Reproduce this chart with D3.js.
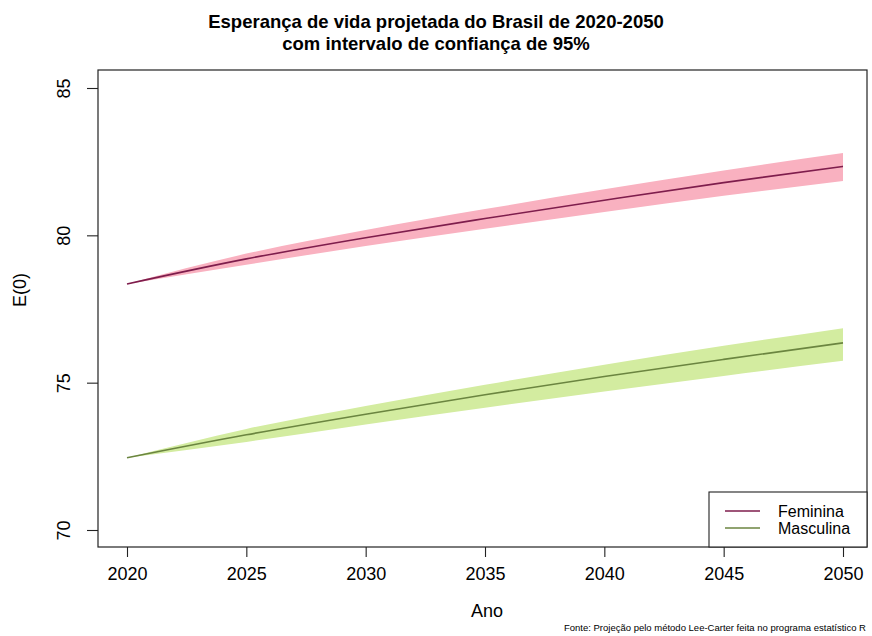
<!DOCTYPE html>
<html>
<head>
<meta charset="utf-8">
<script src="https://cdn.jsdelivr.net/npm/d3@7"></script>
<style>
  body { margin: 0; background: #fff; }
  text { font-family: "Liberation Sans", Arial, sans-serif; fill: #000; }
</style>
</head>
<body>
<svg id="chart"></svg>
<script>
const anos = [2020, 2025, 2030, 2035, 2040, 2045, 2050];

const femMedia = [78.35, 79.20, 79.92, 80.57, 81.19, 81.79, 82.34];
const femSup   = [78.35, 79.38, 80.18, 80.89, 81.56, 82.20, 82.79];
const femInf   = [78.35, 79.00, 79.64, 80.22, 80.79, 81.34, 81.84];

const mascMedia = [72.45, 73.23, 73.93, 74.59, 75.21, 75.79, 76.35];
const mascSup   = [72.45, 73.43, 74.21, 74.93, 75.61, 76.25, 76.85];
const mascInf   = [72.45, 72.99, 73.58, 74.15, 74.70, 75.23, 75.74];

const xTicks = [2020, 2025, 2030, 2035, 2040, 2045, 2050];
const yTicks = [70, 75, 80, 85];

const legendaNomes = ["Feminina", "Masculina"];

function drawChart() {
    const svgWidth = 872;
    const svgHeight = 636;
    const box = { left: 98, right: 867, top: 70, bottom: 547 };

    const svg = d3.select("#chart")
        .attr("width", svgWidth)
        .attr("height", svgHeight);

    const x = d3.scaleLinear()
        .domain([2020, 2050])
        .range([127, 843]);

    const y = d3.scaleLinear()
        .domain([70, 85])
        .range([530, 88]);

    const series = [
        { nome: legendaNomes[0], media: femMedia, sup: femSup, inf: femInf, banda: "#f9b1c0", linha: "#7e1d4c" },
        { nome: legendaNomes[1], media: mascMedia, sup: mascSup, inf: mascInf, banda: "#d3eca0", linha: "#6b8540" }
    ];

    const area = d3.area()
        .x((d) => x(d.ano))
        .y0((d) => y(d.inf))
        .y1((d) => y(d.sup))
        .curve(d3.curveMonotoneX);

    const line = d3.line()
        .x((d) => x(d.ano))
        .y((d) => y(d.v))
        .curve(d3.curveMonotoneX);

    const chart = svg.append("g");

    series.forEach(s => {
        const pts = anos.map((a, i) => ({ ano: a, inf: s.inf[i], sup: s.sup[i], v: s.media[i] }));
        chart.append("path")
            .datum(pts)
            .attr("d", area)
            .attr("fill", s.banda);
        chart.append("path")
            .datum(pts)
            .attr("d", line)
            .attr("fill", "none")
            .attr("stroke", s.linha)
            .attr("stroke-width", 1.6);
    });

    // plot box
    svg.append("rect")
        .attr("x", box.left)
        .attr("y", box.top)
        .attr("width", box.right - box.left)
        .attr("height", box.bottom - box.top)
        .attr("fill", "none")
        .attr("stroke", "#222")
        .attr("stroke-width", 1.2);

    const xAxis = svg.append("g")
        .attr("transform", `translate(0, ${box.bottom})`)
        .call(d3.axisBottom(x).tickValues(xTicks).tickFormat(d3.format("d")).tickSize(10).tickPadding(10));

    const yAxis = svg.append("g")
        .attr("transform", `translate(${box.left}, 0)`)
        .call(d3.axisLeft(y).tickValues(yTicks).tickSize(11).tickPadding(0));

    [xAxis, yAxis].forEach(g => {
        g.select(".domain").remove();
        g.selectAll(".tick line").attr("stroke", "#222").attr("stroke-width", 1.1);
        g.selectAll(".tick text")
            .style("font-family", "'Liberation Sans', Arial, sans-serif")
            .style("font-size", "18px")
            .attr("fill", "#000");
    });

    yAxis.selectAll(".tick text")
        .attr("text-anchor", "middle")
        .attr("x", 0)
        .attr("dy", 0)
        .attr("transform", "translate(-34, 0) rotate(-90) translate(0, 6)");

    // titles
    const title = svg.append("text")
        .attr("text-anchor", "middle")
        .style("font-size", "18.5px")
        .style("font-weight", "bold");
    title.append("tspan").attr("x", 436).attr("y", 28).text("Esperança de vida projetada do Brasil de 2020-2050");
    title.append("tspan").attr("x", 436).attr("y", 50).text("com intervalo de confiança de 95%");

    svg.append("text")
        .attr("x", 487)
        .attr("y", 617)
        .attr("text-anchor", "middle")
        .style("font-size", "18px")
        .text("Ano");

    svg.append("text")
        .attr("transform", "translate(26, 290) rotate(-90)")
        .attr("text-anchor", "middle")
        .style("font-size", "18px")
        .text("E(0)");

    svg.append("text")
        .attr("x", 866)
        .attr("y", 631)
        .attr("text-anchor", "end")
        .style("font-size", "9.5px")
        .text("Fonte:  Projeção pelo método Lee-Carter feita no programa estatístico R");

    // legend
    const leg = svg.append("g");
    leg.append("rect")
        .attr("x", 709)
        .attr("y", 492)
        .attr("width", box.right - 709)
        .attr("height", box.bottom - 492)
        .attr("fill", "#fff")
        .attr("stroke", "#222")
        .attr("stroke-width", 1.1);

    series.forEach((s, i) => {
        const ly = 511 + i * 17;
        leg.append("line")
            .attr("x1", 725).attr("x2", 760)
            .attr("y1", ly).attr("y2", ly)
            .attr("stroke", s.linha)
            .attr("stroke-width", 1.6);
        leg.append("text")
            .attr("x", 778)
            .attr("y", ly + 5.5)
            .style("font-size", "16px")
            .text(s.nome);
    });
}

drawChart();
</script>
</body>
</html>
